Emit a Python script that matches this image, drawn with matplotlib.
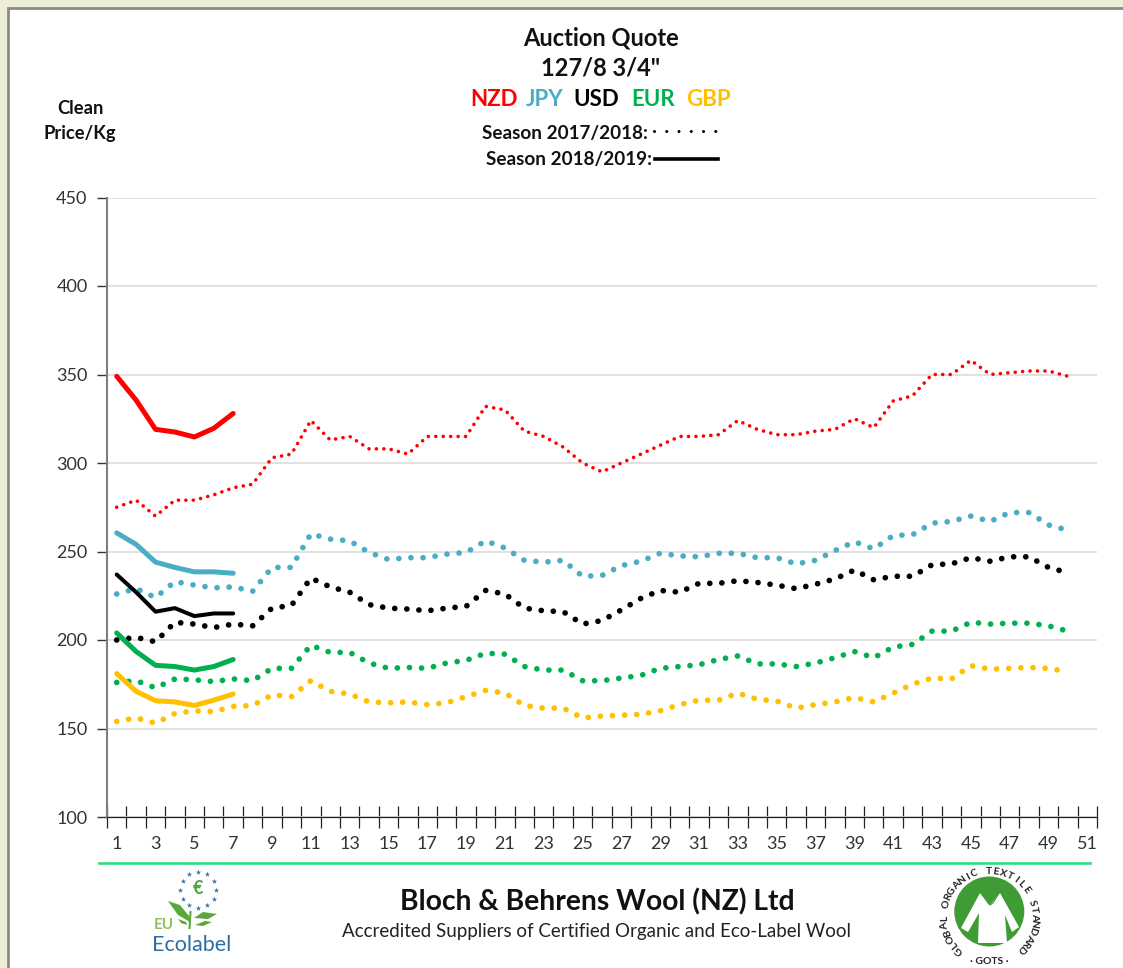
import numpy as np
import matplotlib
matplotlib.use("Agg")
import matplotlib.pyplot as plt
from matplotlib.patches import Circle, Polygon, Rectangle

plt.rcParams['font.family'] = ['Lato', 'DejaVu Sans']

# season 2017/2018, weeks 1-50
weeks_old = list(range(1, 51))
nzd_old = [275, 279, 270, 279, 279, 282, 286, 288, 303, 305, 324, 313, 315, 308, 308, 305, 315, 315, 315, 332,
           330, 318, 315, 309, 300, 295, 300, 305, 310, 315, 315, 316, 324, 319, 316, 316, 318, 319, 325, 320,
           335, 338, 350, 350, 358, 350, 351, 352, 352, 349]
jpy_old = [226, 229, 224, 233, 231, 229.5, 230, 227.5, 241, 241, 260, 257, 256, 249.5, 245.5, 246.5, 246.5, 248.5, 249.5, 256,
           252, 245, 244, 245, 236, 236.5, 242, 244.5, 249, 247.5, 247, 249, 249, 246.5, 246.5, 243, 245, 250.5, 255.5, 251.5,
           259, 259.5, 266, 267, 270, 267, 272, 272, 265, 262]
usd_old = [200, 201.5, 199, 210, 209, 207, 209, 208, 218, 219.5, 235, 230, 227, 220, 218, 217.5, 216.5, 218, 219, 228,
           226, 218, 216.5, 216, 209, 211, 217, 223.5, 228, 227, 232, 232, 233.5, 232.5, 231, 229, 231.5, 234.5, 239.5, 234,
           236, 236, 242.5, 243, 246.5, 244.5, 247, 247, 241, 238]
eur_old = [176, 177, 173, 178, 177.5, 176.5, 178, 177, 184, 184, 197, 193, 193, 187, 184, 184.5, 184, 187, 188.5, 192.5,
           192, 185, 183, 183, 177, 177, 178.5, 180, 184, 185, 186, 189, 191, 186.5, 186.5, 185, 187, 190, 193.5, 190,
           196, 197.5, 205, 205, 210, 209, 209.5, 209.5, 208, 205]
gbp_old = [154, 156, 153, 158.5, 160, 159.5, 162.5, 163, 169, 168, 177, 171, 169.5, 165, 164.5, 165, 163.5, 164.5, 168, 171.5,
           170, 163, 161.5, 161.5, 156, 157, 157.5, 158, 160, 163.5, 166, 166, 170, 166.5, 165.5, 161.5, 163.5, 165, 167.5, 165,
           170, 175, 178.5, 178, 185.5, 183.5, 184, 184.5, 184, 182]

# season 2018/2019, weeks 1-7
weeks_new = list(range(1, 8))
nzd_new = [349, 335.5, 319, 317.5, 314.7, 319.6, 328]
jpy_new = [260.5, 254, 244, 241, 238.5, 238.5, 237.7]
usd_new = [237, 227, 216, 218, 213.5, 215, 215]
eur_new = [204, 193.5, 185.7, 185, 183, 185, 189]
gbp_new = [181, 171, 165.7, 165, 163, 166, 169.5]

currencies = ['NZD', 'JPY', 'USD', 'EUR', 'GBP']
colors = ['#FF0000', '#4BACC6', '#000000', '#00B050', '#FFC000']
y_ticks = [100, 150, 200, 250, 300, 350, 400, 450]
x_labels = list(range(1, 52, 2))
standard_text = 'GLOBAL ORGANIC TEXTILE STANDARD'

W, H = 1123, 968
fig = plt.figure(figsize=(W / 100, H / 100), dpi=100, facecolor='#EEEED6')

# overlay in pixel coordinates for the panel, titles and logos
bg = fig.add_axes([0, 0, 1, 1], zorder=0)
bg.set_xlim(0, W)
bg.set_ylim(H, 0)
bg.axis('off')
bg.add_patch(Rectangle((8, 8), W, H, fc='white', ec='#8A8A8A', lw=2))

# main chart
ax = fig.add_axes([107 / W, 1 - 817 / H, 990 / W, 619.5 / H], zorder=1)
ax.patch.set_alpha(0)
ax.set_xlim(0.5, 51.5)
ax.set_ylim(100, 450)
ax.set_yticks(y_ticks)
ax.set_xticks(x_labels)
ax.set_xticks(np.arange(0.5, 52), minor=True)
ax.grid(axis='y', color='#D9D9D9', lw=1.1, zorder=0)
ax.set_axisbelow(True)
for s in ['top', 'right']:
    ax.spines[s].set_visible(False)
ax.spines['left'].set_color('#7F7F7F')
ax.spines['left'].set_linewidth(1.5)
ax.spines['bottom'].set_color('#222222')
ax.spines['bottom'].set_linewidth(0.9)
ax.tick_params(axis='x', which='major', length=0, pad=14, labelsize=13, labelcolor='#333333')
ax.tick_params(axis='x', which='minor', direction='inout', length=16, width=0.9, color='#222222')
ax.tick_params(axis='y', direction='out', length=7, width=1, color='#333333', pad=7, labelsize=13, labelcolor='#333333')

old = [nzd_old, jpy_old, usd_old, eur_old, gbp_old]
new = [nzd_new, jpy_new, usd_new, eur_new, gbp_new]
for i, (o, n, c) in enumerate(zip(old, new, colors)):
    if i == 0:
        ax.plot(weeks_old, o, color=c, lw=2.6, ls=(0, (0.01, 2.05)), dash_capstyle='round')
    else:
        ax.plot(weeks_old, o, color=c, lw=4.1, ls=(0, (0.01, 2.12)), dash_capstyle='round')
    ax.plot(weeks_new, n, color=c, lw=2.9 if c == '#000000' else 3.6, solid_capstyle='round')

# titles
bg.text(601, 38, 'Auction Quote', ha='center', va='center', fontsize=17, fontweight='bold', color='#111111')
bg.text(601, 68, '127/8 3/4"', ha='center', va='center', fontsize=17, fontweight='bold', color='#111111')
for name, c, x in zip(currencies, colors, [494, 545, 596, 653, 708]):
    bg.text(x, 100, name, ha='center', va='center', fontsize=16, fontweight='bold', color=c)
bg.text(648, 133, 'Season 2017/2018:', ha='right', va='center', fontsize=13.6, fontweight='bold', color='#111111')
bg.text(652, 160, 'Season 2018/2019:', ha='right', va='center', fontsize=13.6, fontweight='bold', color='#111111')
bg.plot([654, 718], [131, 131], color='black', lw=2.2, ls=(0, (0.01, 4.0)), dash_capstyle='round')
bg.plot([655, 718], [159, 159], color='black', lw=2.6)
bg.text(80, 109, 'Clean', ha='center', va='center', fontsize=13.2, fontweight='bold', color='#111111')
bg.text(80, 134, 'Price/Kg', ha='center', va='center', fontsize=13.2, fontweight='bold', color='#111111')

# footer
bg.plot([99, 1090], [863, 863], color='#2FDC85', lw=1.9)
bg.text(597, 902, 'Bloch & Behrens Wool (NZ) Ltd', ha='center', va='center', fontsize=20.3, fontweight='bold', color='#111111')
bg.text(597, 932, 'Accredited Suppliers of Certified Organic and Eco-Label Wool', ha='center', va='center',
        fontsize=13.5, color='#222222')

# EU Ecolabel logo
ang = np.deg2rad(np.arange(0, 360, 30))
bg.scatter(198.3 + 18 * np.cos(ang), 889.5 + 18 * np.sin(ang), marker='*', s=16, color='#2F6FA8', lw=0)
bg.text(198, 888, '€', ha='center', va='center', fontsize=13, color='#4FA53A', fontweight='bold')
leaf_green = '#5BA83A'
bg.add_patch(Polygon([(168, 901), (180, 905), (189, 916), (190, 922), (178, 915)], fc=leaf_green, lw=0))
bg.add_patch(Polygon([(194, 918), (203, 912), (217, 914), (208, 919)], fc=leaf_green, lw=0))
bg.add_patch(Polygon([(195, 925), (205, 921), (212, 922), (203, 926)], fc=leaf_green, lw=0))
bg.add_patch(Polygon([(178, 919), (186, 922), (187, 925), (181, 923)], fc=leaf_green, lw=0))
bg.plot([190.5, 189.5], [912, 928], color=leaf_green, lw=1.5)
bg.text(154, 925, 'EU', ha='left', va='center', fontsize=11, fontweight='bold', color='#8CC25A')
bg.text(192, 945, 'Ecolabel', ha='center', va='center', fontsize=15.5, color='#2B6EA3')

# GOTS logo
cx, cy = 989.3, 911.5
ring_y = 916.5
bg.add_patch(Circle((cx, cy), 35, fc='#3F9C35', lw=0))
shirt = [(980, 893), (961, 928), (968, 932), (979, 913), (978, 943), (1007, 943), (1005, 915), (1012, 932),
         (1019, 927), (1000, 893), (990, 905)]
bg.add_patch(Polygon(shirt, fc='white', lw=0))
bg.plot([981, 988, 990, 993, 999], [893, 903, 905, 903, 893], color='#3F9C35', lw=0.8)
# letters placed one by one around the disc
angles = np.linspace(-138, 136, len(standard_text))
for ch, a in zip(standard_text, angles):
    r = np.deg2rad(a)
    bg.text(cx + 45 * np.sin(r), ring_y - 45 * np.cos(r), ch, rotation=-a, rotation_mode='anchor', ha='center', va='center',
            fontsize=7.5, fontweight='bold', color='#222222')
bg.text(cx, 961, '· GOTS ·', ha='center', va='center', fontsize=7.5, fontweight='bold', color='#222222')

fig.savefig('out.png', dpi=100, facecolor=fig.get_facecolor())
